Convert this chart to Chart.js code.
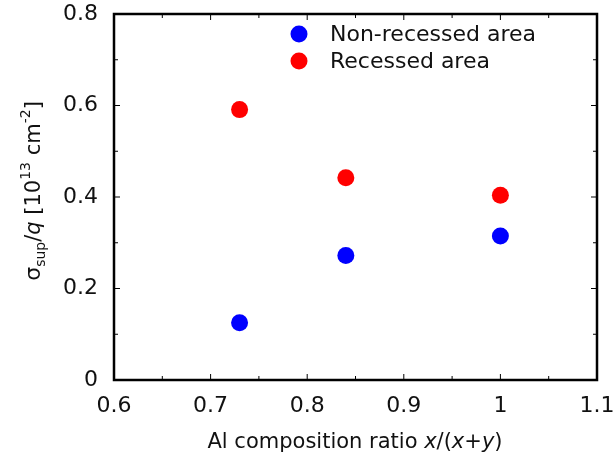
<!DOCTYPE html>
<html>
<head>
<meta charset="utf-8">
<script src="https://cdn.jsdelivr.net/npm/chart.js@4.4.1/dist/chart.umd.min.js"></script>
<style>
html,body{margin:0;padding:0;background:#fff;}
#wrap{width:615px;height:459px;}
</style>
</head>
<body>
<div id="wrap"><canvas id="c" width="615" height="459"></canvas></div>
<script>
// Data
const seriesNames = ['Non-recessed area', 'Recessed area'];
const alRatio = [0.73, 0.84, 1.0];
const nonRecessed = [0.125, 0.272, 0.315];
const recessed = [0.591, 0.442, 0.404];
const xTickRange = [0.6, 1.1, 0.1];
const yTickRange = [0, 0.8, 0.2];
const colors = ['#0000ff', '#ff0000'];

const FONT = '"DejaVu Sans", sans-serif';
const TXT = '#111111';

function drawRich(ctx, segs, cx, baseY) {
  let total = 0;
  segs.forEach(s => {
    ctx.font = (s.italic ? 'oblique ' : '') + s.size + 'px ' + FONT;
    s.w = ctx.measureText(s.t).width;
    total += s.w;
  });
  let x = cx - total / 2;
  segs.forEach(s => {
    ctx.font = (s.italic ? 'oblique ' : '') + s.size + 'px ' + FONT;
    ctx.fillText(s.t, x, baseY + (s.dy || 0));
    x += s.w;
  });
}

const framePlugin = {
  id: 'frame',
  afterDraw(chart) {
    const ctx = chart.ctx;
    const a = chart.chartArea;
    const xs = chart.scales.x, ys = chart.scales.y;
    ctx.save();
    ctx.strokeStyle = '#000';
    // ticks (inward, all four sides)
    ctx.lineWidth = 1;
    ctx.beginPath();
    for (let i = 0; i <= 10; i++) {
      const v = xTickRange[0] + i * 0.05;
      const px = xs.getPixelForValue(v);
      const len = (i % 2 === 0) ? 6 : 4;
      ctx.moveTo(px, a.bottom); ctx.lineTo(px, a.bottom - len);
      ctx.moveTo(px, a.top); ctx.lineTo(px, a.top + len);
    }
    for (let i = 0; i <= 8; i++) {
      const v = yTickRange[0] + i * 0.1;
      const py = ys.getPixelForValue(v);
      const len = (i % 2 === 0) ? 6 : 4;
      ctx.moveTo(a.left, py); ctx.lineTo(a.left + len, py);
      ctx.moveTo(a.right, py); ctx.lineTo(a.right - len, py);
    }
    ctx.stroke();
    ctx.lineWidth = 2.5;
    ctx.strokeRect(a.left, a.top, a.right - a.left, a.bottom - a.top);

    // legend
    ctx.textBaseline = 'alphabetic';
    ctx.textAlign = 'left';
    const legY = [34, 61];
    chart.data.datasets.forEach((ds, i) => {
      ctx.beginPath();
      ctx.fillStyle = ds.backgroundColor;
      ctx.arc(299, legY[i], 8.5, 0, Math.PI * 2);
      ctx.fill();
      ctx.fillStyle = TXT;
      ctx.font = '22px ' + FONT;
      ctx.fillText(ds.label, 330, legY[i] + 7);
    });

    // x title
    ctx.fillStyle = TXT;
    drawRich(ctx, [
      {t: 'Al composition ratio ', size: 21},
      {t: 'x', size: 21, italic: true},
      {t: '/(', size: 21},
      {t: 'x', size: 21, italic: true},
      {t: '+', size: 21},
      {t: 'y', size: 21, italic: true},
      {t: ')', size: 21}
    ], 355, 448);

    // y title
    ctx.save();
    ctx.translate(40, 191);
    ctx.rotate(-Math.PI / 2);
    drawRich(ctx, [
      {t: 'σ', size: 22},
      {t: 'sup', size: 14, dy: 5},
      {t: '/', size: 21},
      {t: 'q', size: 21, italic: true},
      {t: ' [10', size: 21},
      {t: '13', size: 14, dy: -10},
      {t: ' cm', size: 21},
      {t: '-2', size: 14, dy: -10},
      {t: ']', size: 21}
    ], 0, 0);
    ctx.restore();
    ctx.restore();
  }
};

const mk = (xs, ys) => xs.map((x, i) => ({x: x, y: ys[i]}));
const fmt = v => String(+Number(v).toFixed(2));

new Chart(document.getElementById('c'), {
  type: 'scatter',
  data: {
    datasets: [
      {label: seriesNames[0], data: mk(alRatio, nonRecessed), backgroundColor: colors[0], borderWidth: 0, pointRadius: 8.5, pointHoverRadius: 8.5},
      {label: seriesNames[1], data: mk(alRatio, recessed), backgroundColor: colors[1], borderWidth: 0, pointRadius: 8.5, pointHoverRadius: 8.5}
    ]
  },
  options: {
    responsive: false,
    animation: false,
    events: [],
    layout: {padding: {top: 14, right: 18, left: 0, bottom: 0}},
    plugins: {legend: {display: false}, tooltip: {enabled: false}},
    scales: {
      x: {
        type: 'linear', min: xTickRange[0], max: xTickRange[1],
        grid: {display: false, drawTicks: false}, border: {display: false},
        ticks: {stepSize: xTickRange[2], color: TXT, font: {size: 22, family: FONT}, padding: 13, maxRotation: 0, callback: fmt},
        afterFit(s) { s.height = 79; s.paddingLeft = 0; s.paddingRight = 0; }
      },
      y: {
        type: 'linear', min: yTickRange[0], max: yTickRange[1],
        grid: {display: false, drawTicks: false}, border: {display: false},
        ticks: {stepSize: yTickRange[2], color: TXT, font: {size: 22, family: FONT}, padding: 16, callback: fmt},
        afterFit(s) { s.width = 114; s.paddingTop = 0; s.paddingBottom = 0; }
      }
    }
  },
  plugins: [framePlugin]
});
</script>
</body>
</html>
